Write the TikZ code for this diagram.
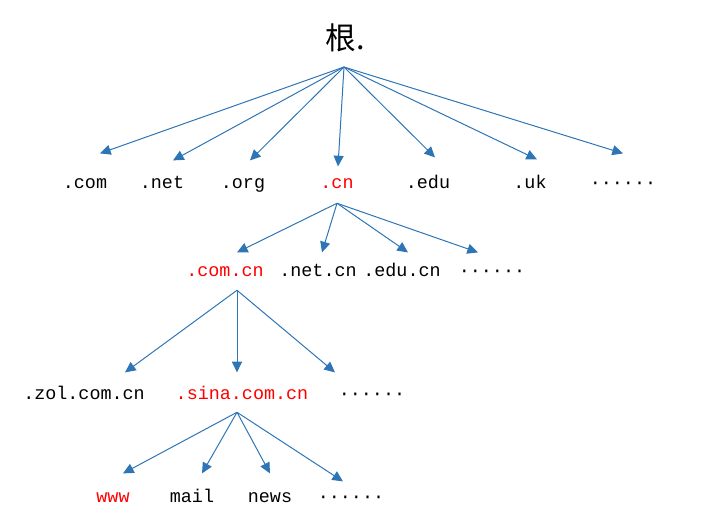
\documentclass[tikz,border=0pt]{standalone}
\usepackage{fontspec}
\setmonofont{Liberation Mono}
\newfontfamily\cjkfont{Noto Sans CJK SC}
\usetikzlibrary{arrows.meta, positioning}
\definecolor{linkblue}{RGB}{46,117,182}

\begin{document}
\begin{tikzpicture}[
		x=0.75pt, y=-0.75pt,
		% Style for the domain labels
		dom/.style={font=\ttfamily\fontsize{13.8pt}{14pt}\selectfont, inner sep=0pt,
			text height=10pt, text depth=3pt, anchor=base},
		hot/.style={dom, text=red},
		% Root title
		rootTitle/.style={font=\cjkfont\fontsize{23pt}{24pt}\selectfont, inner sep=0pt},
		% Style for the arrows
		link/.style={draw=linkblue, line width=0.75pt, -{Triangle[length=8pt, width=7.5pt]}}
		]
		\useasboundingbox (0,0) rectangle (701,515);
		
		% ROOT
		\node[rootTitle] (root) at (345,38) {根.};
		\coordinate (root-out) at (344,67);
		
		% LEVEL 1
		\node[dom] (com) at (85,188) {.com};
		\node[dom] (net) at (162,188) {.net};
		\node[dom] (org) at (243,188) {.org};
		\node[hot] (cn) at (337,188) {.cn};
		\node[dom] (edu) at (428,188) {.edu};
		\node[dom] (uk) at (530,188) {.uk};
		\node[dom] (more1) at (623,188) {······};
		
		\draw[link] (root-out) -- ([shift={(15,-21)}]com.north);
		\draw[link] (root-out) -- ([shift={(11,-14)}]net.north);
		\draw[link] (root-out) -- ([shift={(7,-14)}]org.north);
		\draw[link] (root-out) -- ([shift={(1,-8)}]cn.north);
		\draw[link] (root-out) -- ([shift={(7,-17)}]edu.north);
		\draw[link] (root-out) -- ([shift={(7,-15)}]uk.north);
		\draw[link] (root-out) -- ([shift={(0,-21)}]more1.north);
		
		% LEVEL 2 (under .cn)
		\node[hot] (comcn) at (225,276) {.com.cn};
		\node[dom] (netcn) at (318,276) {.net.cn};
		\node[dom] (educn) at (402,276) {.edu.cn};
		\node[dom] (more2) at (492,276) {······};
		\coordinate (cn-out) at ([shift={(0,11)}]cn.south);
		
		\draw[link] (cn-out) -- ([shift={(12,-10)}]comcn.north);
		\draw[link] (cn-out) -- ([shift={(4,-10)}]netcn.north);
		\draw[link] (cn-out) -- ([shift={(6,-10)}]educn.north);
		\draw[link] (cn-out) -- ([shift={(-14,-10)}]more2.north);
		
		% LEVEL 3 (under .com.cn)
		\node[dom] (zol) at (84,399) {.zol.com.cn};
		\node[hot] (sina) at (242,399) {.sina.com.cn};
		\node[dom] (more3) at (372,399) {······};
		\coordinate (comcn-out) at ([shift={(12,10)}]comcn.south);
		
		\draw[link] (comcn-out) -- ([shift={(41,-13)}]zol.north);
		\draw[link] (comcn-out) -- ([shift={(-5,-13)}]sina.north);
		\draw[link] (comcn-out) -- ([shift={(-37,-13)}]more3.north);
		
		% LEVEL 4 (hosts under .sina.com.cn)
		\node[hot] (www) at (113,502) {www};
		\node[dom] (mail) at (192,502) {mail};
		\node[dom] (news) at (270,502) {news};
		\node[dom] (more4) at (351,502) {······};
		\coordinate (sina-out) at ([shift={(-5,9)}]sina.south);
		
		\draw[link] (sina-out) -- ([shift={(10,-15)}]www.north);
		\draw[link] (sina-out) -- ([shift={(10,-15)}]mail.north);
		\draw[link] (sina-out) -- ([shift={(0,-15)}]news.north);
		\draw[link] (sina-out) -- ([shift={(-8,-7)}]more4.north);
	\end{tikzpicture}
\end{document}
